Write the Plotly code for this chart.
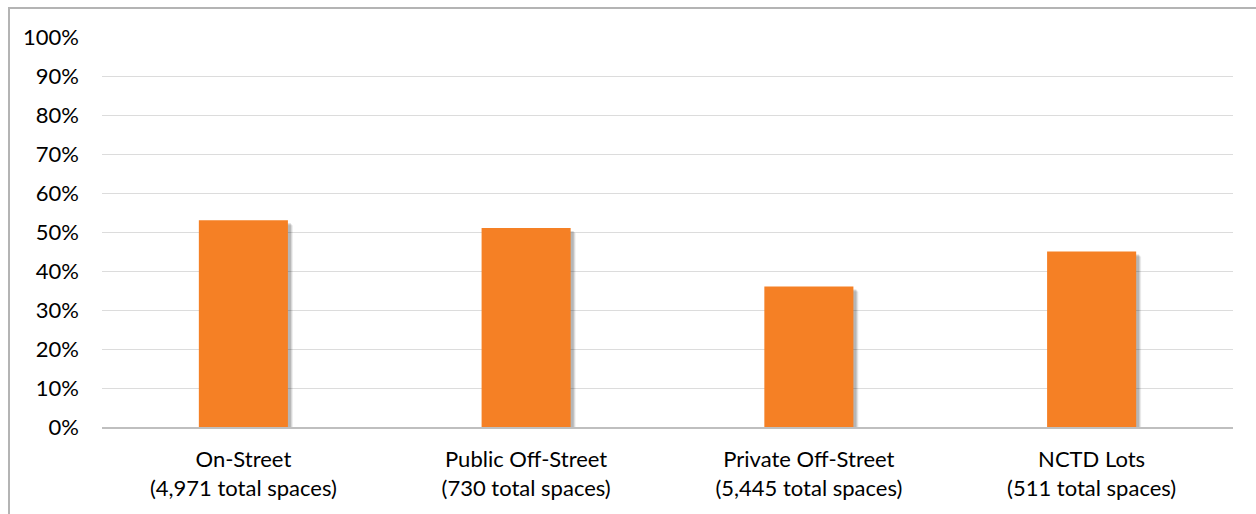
import plotly.graph_objects as go

# Data
categories = ["On-Street", "Public Off-Street", "Private Off-Street", "NCTD Lots"]
total_spaces = ["4,971", "730", "5,445", "511"]
occupancy = [0.53, 0.51, 0.36, 0.45]
y_ticks = [0.0, 0.1, 0.2, 0.3, 0.4, 0.5, 0.6, 0.7, 0.8, 0.9, 1.0]

labels = [f"{c}<br>({t} total spaces)" for c, t in zip(categories, total_spaces)]

W, H = 1256, 514
ML, MR, MT, MB = 102, 23, 37, 87
plot_w = W - ML - MR
plot_h = H - MT - MB
px_x = len(categories) / plot_w      # category units per pixel
px_y = 1.0 / plot_h                  # y units per pixel

BAR_W = 0.315
BAR_COLOR = "#F58025"
FONT = "Lato"
FS = 22

fig = go.Figure()

# soft drop shadow (offset right/down), built from the same values
shift = 3
for spread, alpha in [(2, 0.07), (1, 0.10), (0, 0.14)]:
    fig.add_trace(go.Bar(
        x=labels, y=occupancy,
        base=[-(shift + spread) * px_y] * len(occupancy),
        width=BAR_W + 2 * spread * px_x,
        offset=-BAR_W / 2 + (shift - spread) * px_x,
        marker=dict(color=f"rgba(0,0,0,{alpha})", line=dict(width=0)),
        hoverinfo="skip", showlegend=False, cliponaxis=False,
    ))

fig.add_trace(go.Bar(
    x=labels, y=occupancy,
    width=BAR_W, offset=-BAR_W / 2,
    marker=dict(color=BAR_COLOR, line=dict(width=0)),
    showlegend=False, cliponaxis=False,
))

# outer chart border (extends past the right/bottom edges like the source)
fig.add_shape(
    type="rect", xref="paper", yref="paper",
    x0=(9 - ML) / plot_w, x1=(W + 20 - ML) / plot_w,
    y0=-(MB + 20) / plot_h, y1=(H - MB - 8) / plot_h,
    line=dict(color="#b4b4b4", width=2), fillcolor="rgba(0,0,0,0)",
    layer="below",
)

fig.update_layout(
    width=W, height=H,
    margin=dict(l=ML, r=MR, t=MT, b=MB, pad=0),
    paper_bgcolor="white", plot_bgcolor="white",
    barmode="overlay",
    font=dict(family=FONT, size=FS, color="#000000"),
    xaxis=dict(
        range=[-0.5, len(categories) - 0.5],
        showline=True, linecolor="#bfbfbf", linewidth=1.5,
        showgrid=False, ticks="", ticklabelstandoff=12,
        tickfont=dict(family=FONT, size=FS, color="#000000"),
    ),
    yaxis=dict(
        range=[0, 1],
        tickvals=y_ticks, tickformat=".0%",
        showgrid=True, gridcolor="#dcdcdc", gridwidth=1.3,
        zeroline=False, showline=False, ticks="", ticklabelstandoff=22,
        tickfont=dict(family=FONT, size=FS, color="#000000"),
    ),
)

fig.write_html("out.html")
